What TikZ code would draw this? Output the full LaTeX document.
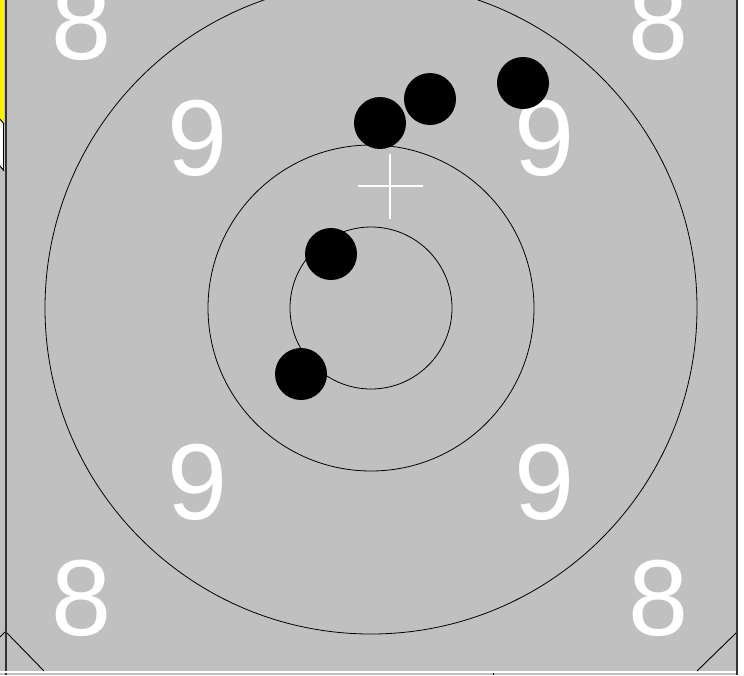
\documentclass[tikz,border=0pt]{standalone}
\usepackage{fontspec}
\setmainfont{Liberation Sans}
\definecolor{targetgray}{HTML}{C0C0C0}
\definecolor{edgegray}{HTML}{333333}
\begin{document}
\begin{tikzpicture}[x=1pt,y=-1pt,
  ring/.style={draw=black,line width=0.8pt},
  ringnum/.style={text=white,inner sep=0pt,font=\fontsize{108}{108}\selectfont},
  hole/.style={fill=black},
  edge/.style={draw=black,line width=0.9pt}]
\useasboundingbox (0,0) rectangle (744,675);
\fill[white] (0,0) rectangle (744,675);
\fill[targetgray] (0,0) rectangle (737,675);
% left strip
\fill[yellow] (0,0) -- (4,0) -- (4,124) -- (0,119) -- cycle;
\fill[white] (0,120) -- (4,125) -- (4,170) -- (0,166) -- cycle;
\draw[edge] (0,119) -- (4,124);
\draw[edge] (0,166) -- (4,171);
\draw[edge] (3.5,124) -- (3.5,170);
\draw[edgegray,line width=2pt] (6,0) -- (6,675);
\draw[edgegray,line width=2pt] (737,0) -- (737,675);
% bottom
\draw[white,line width=1.5pt] (0,672) -- (736,672);
\draw[black,line width=1pt] (493,672.5) -- (493,675);
\coordinate (bl1) at (0,637);
\coordinate (bl2) at (5,632);
\coordinate (bl3) at (7,633);
\coordinate (bl4) at (44,671);
\coordinate (br1) at (697,671);
\coordinate (br2) at (736,633);
\draw[edge] (bl1) -- (bl2);
\draw[edge] (bl3) -- (bl4);
\draw[edge] (br1) -- (br2);
% rings
\coordinate (c) at (371,308);
\draw[ring] (c) circle[radius=326];
\draw[ring] (c) circle[radius=163];
\draw[ring] (c) circle[radius=81];
% ring numbers
\node[ringnum] (n8a) at (82,22) {8};
\node[ringnum] (n8b) at (659,22) {8};
\node[ringnum] (n8c) at (82,598) {8};
\node[ringnum] (n8d) at (659,598) {8};
\node[ringnum] (n9a) at (198,138) {9};
\node[ringnum] (n9b) at (545,138) {9};
\node[ringnum] (n9c) at (198,482) {9};
\node[ringnum] (n9d) at (545,482) {9};
% cross
\draw[white,line width=2.5pt] (358,186) -- (423,186);
\draw[white,line width=2.5pt] (390,154) -- (390,219);
% holes
\fill[hole] (380,123) circle[radius=26];
\fill[hole] (430,99) circle[radius=26];
\fill[hole] (523,83) circle[radius=26];
\fill[hole] (331,254) circle[radius=26];
\fill[hole] (301,374) circle[radius=26];
\end{tikzpicture}
\end{document}
